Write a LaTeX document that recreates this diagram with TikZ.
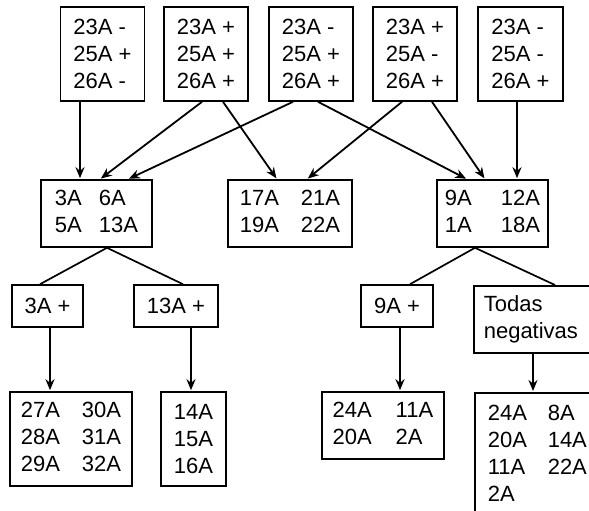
\documentclass[tikz,border=0pt]{standalone}
\usepackage{fontspec}
\setmainfont{Liberation Sans}
\usetikzlibrary{arrows.meta}

\begin{document}
\begin{tikzpicture}[x=1pt,y=-1pt,
  every node/.style={draw,line width=1.6pt,inner sep=0pt,font=\fontsize{22}{27}\selectfont},
  link/.style={line width=1.8pt,-{Stealth[length=11pt,width=9pt]},shorten >=1pt},
  split/.style={line width=1.7pt}
]
  \useasboundingbox (0,0) rectangle (589,511);
  \clip (0,0) rectangle (589,511);

  \node[minimum width=84pt,minimum height=94pt,align=left] (t1) at (102.5,54) {23A -\\25A +\\26A -};
  \node[minimum width=84pt,minimum height=94pt,align=left] (t2) at (206,54) {23A +\\25A +\\26A +};
  \node[minimum width=84pt,minimum height=94pt,align=left] (t3) at (311,54) {23A -\\25A +\\26A +};
  \node[minimum width=84pt,minimum height=94pt,align=left] (t4) at (415,54) {23A +\\25A -\\26A +};
  \node[minimum width=85pt,minimum height=94pt,align=left] (t5) at (520.5,54) {23A -\\25A -\\26A +};

  \node[minimum width=111pt,minimum height=67pt] (m1) at (96.5,213.5)
    {\begin{tabular}{@{}p{44pt}@{}l@{}}3A & 6A\\5A & 13A\end{tabular}};
  \node[minimum width=124pt,minimum height=67pt] (m2) at (290,213.5)
    {\begin{tabular}{@{}p{61pt}@{}l@{}}17A & 21A\\19A & 22A\end{tabular}};
  \node[minimum width=111pt,minimum height=67pt] (m3) at (492.5,213.5)
    {\begin{tabular}{@{}p{56pt}@{}l@{}}9A & 12A\\1A & 18A\end{tabular}};

  \node[minimum width=71pt,minimum height=42pt] (b1) at (47.5,306) {3A +};
  \node[minimum width=84pt,minimum height=42pt] (b2) at (176,306) {13A +};
  \node[minimum width=72pt,minimum height=42pt] (b3) at (397,306) {9A +};
  \node[anchor=north west,text width=120pt,align=left,inner xsep=10pt,minimum height=67pt] (b4) at (473,285) {Todas\\negativas};

  \node[minimum width=122pt,minimum height=94pt] (c1) at (71,439)
    {\begin{tabular}{@{}p{61pt}@{}l@{}}27A & 30A\\28A & 31A\\29A & 32A\end{tabular}};
  \node[minimum width=65pt,minimum height=94pt,align=left] (c2) at (193.5,439) {14A\\15A\\16A};
  \node[minimum width=122pt,minimum height=67pt] (c3) at (383,425.5)
    {\begin{tabular}{@{}p{63pt}@{}l@{}}24A & 11A\\20A & 2A\end{tabular}};
  \node[anchor=north west,text width=120pt,align=left,inner xsep=13pt,inner ysep=8.6pt] (c4) at (474,392)
    {\begin{tabular}{@{}p{60pt}@{}l@{}}24A & 8A\\20A & 14A\\11A & 22A\\2A & \end{tabular}};

  \draw[link] ([xshift=-22.5pt]t1.south) -- ([xshift=-22.5pt]t1.south |- m1.north);
  \draw[link] ([xshift=-4pt]t2.south) -- ([xshift=3.5pt]m1.north);
  \draw[link] ([xshift=17pt]t2.south) -- ([xshift=-13pt]m2.north);
  \draw[link] ([xshift=-18pt]t3.south) -- ([xshift=31.5pt]m1.north);
  \draw[link] ([xshift=7pt]t3.south) -- ([xshift=-25.5pt]m3.north);
  \draw[link] ([xshift=-13pt]t4.south) -- ([xshift=17pt]m2.north);
  \draw[link] ([xshift=17pt]t4.south) -- ([xshift=-7.5pt]m3.north);
  \draw[link] ([xshift=-3.5pt]t5.south) -- ([xshift=-3.5pt]t5.south |- m3.north);

  \draw[split] ([xshift=-7.5pt]b1.north) -- ([xshift=10.5pt]m1.south) -- ([xshift=7pt]b2.north);
  \draw[split] ([xshift=13pt]b3.north) -- ([xshift=-17.5pt]m3.south) -- ([xshift=82pt]b4.north west);

  \draw[link] ([xshift=2.5pt]b1.south) -- ([xshift=2.5pt]b1.south |- c1.north);
  \draw[link] ([xshift=15pt]b2.south) -- ([xshift=15pt]b2.south |- c2.north);
  \draw[link] ([xshift=3pt]b3.south) -- ([xshift=3pt]b3.south |- c3.north);
  \draw[link] ([xshift=60pt]b4.south west) -- ([xshift=60pt]b4.south west |- c4.north);
\end{tikzpicture}
\end{document}
